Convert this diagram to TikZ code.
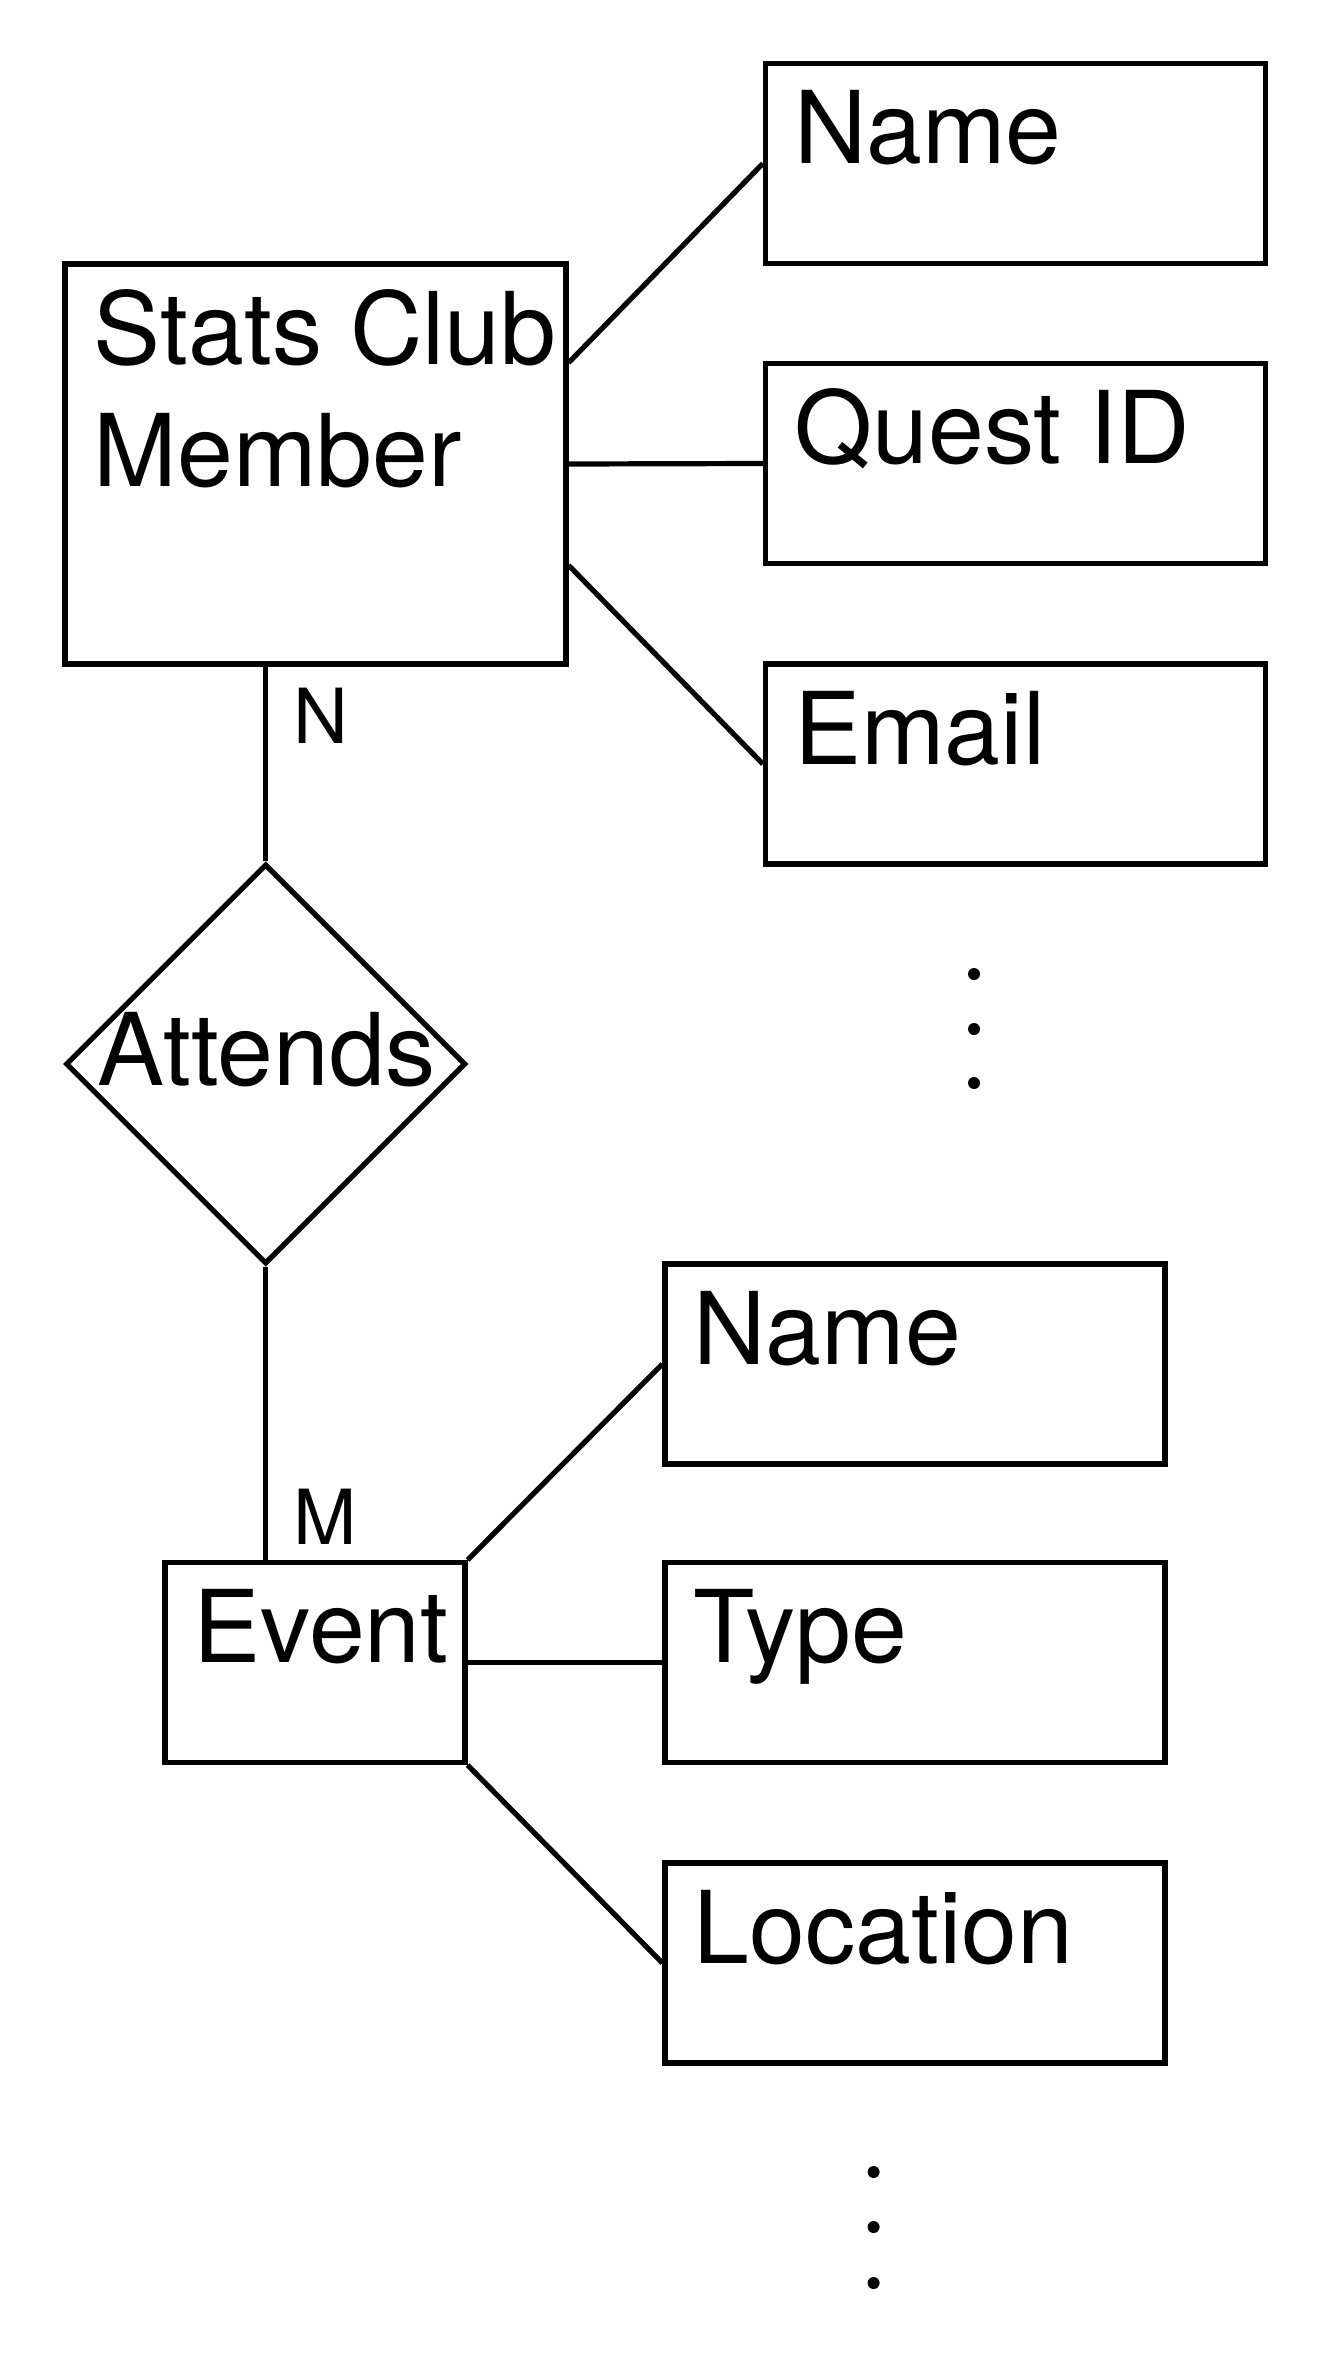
\documentclass[tikz,border=0pt]{standalone}
\usepackage{fontspec}
\setmainfont{TeX Gyre Heros}
\usetikzlibrary{shapes.geometric,calc}
\begin{document}
\begin{tikzpicture}[x=0.5pt,y=-0.5pt,
  box/.style={draw,line width=2.6pt,rectangle,inner sep=0pt,minimum width=250pt,minimum height=100pt},
  txt/.style={inner sep=0pt,anchor=base west,font=\fontsize{50.2pt}{61pt}\selectfont},
  card/.style={inner sep=0pt,anchor=base west,font=\fontsize{38pt}{46pt}\selectfont},
  link/.style={line width=2.6pt}]
\useasboundingbox (0,0) rectangle (1330,2355);
% entity Stats Club Member
\node[box,minimum width=250.5pt,minimum height=200pt] (scm) at (315.5,464) {};
\node[txt] (scmA) at ([shift={(31,103)}]scm.north west) {Stats Club};
\node[txt] (scmB) at ([shift={(31,225)}]scm.north west) {Member};
% attributes
\node[box] (nm1) at (1015.5,163.5) {};
\node[box] (qid) at (1015.5,463.5) {};
\node[box] (eml) at (1015.5,764) {};
\node[txt] (nm1T) at ([shift={(31,103)}]nm1.north west) {Name};
\node[txt] (qidT) at ([shift={(31,103)}]qid.north west) {Quest ID};
\node[txt] (emlT) at ([shift={(31,103)}]eml.north west) {Email};
% relationship
\node[draw,line width=2.6pt,diamond,inner sep=0pt,minimum width=200pt,minimum height=200pt] (att) at (265.7,1064) {};
\node[txt,anchor=base] (attT) at (266.5,1085) {Attends};
% entity Event
\node[box,minimum width=150pt,minimum height=100pt] (evt) at (315,1662.5) {};
\node[txt] (evtT) at ([shift={(31,103)}]evt.north west) {Event};
\node[box] (nm2) at (915,1364) {};
\node[box] (typ) at (915,1662.5) {};
\node[box] (loc) at (915,1963) {};
\node[txt] (nm2T) at ([shift={(31,103)}]nm2.north west) {Name};
\node[txt] (typT) at ([shift={(31,103)}]typ.north west) {Type};
\node[txt] (locT) at ([shift={(31,103)}]loc.north west) {Location};
% cardinalities
\node[card] (cN) at (293,743) {N};
\node[card] (cM) at (293,1544) {M};
% connectors
\draw[link] ($(scm.north east)!0.25!(scm.south east)$) -- (nm1.west);
\draw[link] (scm.east) -- (qid.west);
\draw[link] ($(scm.north east)!0.75!(scm.south east)$) -- (eml.west);
\draw[link] (att.north) -- (att.north |- scm.south);
\draw[link] (att.south) -- (att.south |- evt.north);
\draw[link] (evt.north east) -- (nm2.west);
\draw[link] (evt.east) -- (typ.west);
\draw[link] (evt.south east) -- (loc.west);
% ellipses
\foreach \y in {974,1029,1083} \fill (974,\y) circle (3pt);
\foreach \y in {2172,2227,2283} \fill (873.6,\y) circle (3pt);
\end{tikzpicture}
\end{document}
